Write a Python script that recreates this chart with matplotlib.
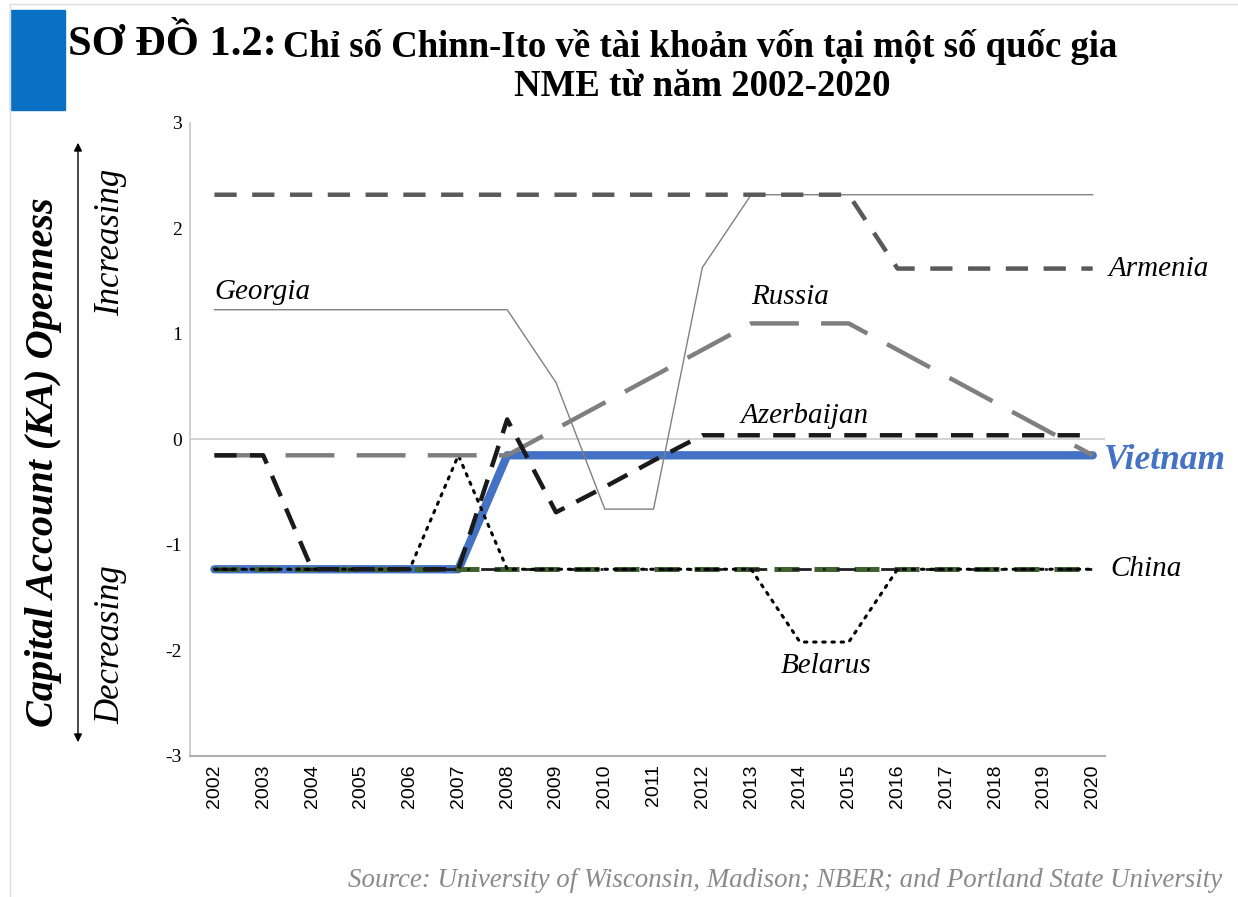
import matplotlib
matplotlib.use("Agg")
import matplotlib.pyplot as plt
from matplotlib.patches import Rectangle
from matplotlib.lines import Line2D

plt.rcParams['font.family'] = ['Liberation Serif', 'DejaVu Serif']

years = [2002, 2003, 2004, 2005, 2006, 2007, 2008, 2009, 2010, 2011,
         2012, 2013, 2014, 2015, 2016, 2017, 2018, 2019, 2020]

armenia = [2.32, 2.32, 2.32, 2.32, 2.32, 2.32, 2.32, 2.32, 2.32, 2.32,
           2.32, 2.32, 2.32, 2.32, 1.62, 1.62, 1.62, 1.62, 1.62]
georgia = [1.23, 1.23, 1.23, 1.23, 1.23, 1.23, 1.23, 0.54, -0.66, -0.66,
           1.63, 2.32, 2.32, 2.32, 2.32, 2.32, 2.32, 2.32, 2.32]
russia = [-0.15, -0.15, -0.15, -0.15, -0.15, -0.15, -0.15, 0.10, 0.35, 0.60,
          0.85, 1.10, 1.10, 1.10, 0.85, 0.60, 0.35, 0.10, -0.15]
azerbaijan = [-0.15, -0.15, -1.23, -1.23, -1.23, -1.23, 0.19, -0.69, -0.45, -0.20,
              0.04, 0.04, 0.04, 0.04, 0.04, 0.04, 0.04, 0.04, 0.04]
belarus = [-1.23, -1.23, -1.23, -1.23, -1.23, -0.15, -1.23, -1.23, -1.23, -1.23,
           -1.23, -1.23, -1.92, -1.92, -1.23, -1.23, -1.23, -1.23, -1.23]
china = [-1.23, -1.23, -1.23, -1.23, -1.23, -1.23, -1.23, -1.23, -1.23, -1.23,
         -1.23, -1.23, -1.23, -1.23, -1.23, -1.23, -1.23, -1.23, -1.23]
vietnam = [-1.23, -1.23, -1.23, -1.23, -1.23, -1.23, -0.15, -0.15, -0.15, -0.15,
           -0.15, -0.15, -0.15, -0.15, -0.15, -0.15, -0.15, -0.15, -0.15]

fig = plt.figure(figsize=(12.38, 8.97), dpi=100)
ax = fig.add_axes([0.1535, 0.1572, 0.739, 0.7057])

# zero line
ax.axhline(0, color='#d0d0d0', lw=1.3, zorder=1)

ax.plot(years, vietnam, color='#4472C4', lw=6, solid_capstyle='round', zorder=2)
ax.plot(years, china, color='#3f6330', lw=3.6, ls=(0, (5, 3)), zorder=3)
ax.plot(years, china, color='#1e1e1e', lw=2.0, ls=(0, (7, 4, 1, 4)), zorder=3)
ax.plot(years, belarus, color='black', lw=2.2, ls=(0, (0.8, 2.2)), dash_capstyle='round', zorder=4)
ax.plot(years, georgia, color='#808080', lw=1.0, zorder=4)
ax.plot(years, russia, color='#7f7f7f', lw=3.2, ls=(0, (11, 5)), zorder=4)
ax.plot(years, armenia, color='#595959', lw=3.2, ls=(0, (5, 3.5)), zorder=4)
ax.plot(years, azerbaijan, color='#1a1a1a', lw=3.2, ls=(0, (5, 3)), zorder=5)

ax.set_xlim(2001.5, 2020.25)
ax.set_ylim(-3, 3)
ax.set_yticks([-3, -2, -1, 0, 1, 2, 3])
ax.set_yticklabels(['-3', '-2', '-1', '0', '1', '2', '3'], fontsize=14)
ax.set_xticks(years)
ax.set_xticklabels([str(y) for y in years], rotation=90, fontsize=14,
                   family=['Liberation Sans', 'DejaVu Sans'])
ax.tick_params(axis='both', length=0, pad=6)
for s in ['top', 'right']:
    ax.spines[s].set_visible(False)
ax.spines['left'].set_color('#c8c8c8')
ax.spines['bottom'].set_color('#b0b0b0')
ax.spines['left'].set_linewidth(1.2)
ax.spines['bottom'].set_linewidth(1.5)

# series labels
lab = dict(fontsize=21, style='italic', color='black')
ax.text(2002, 1.40, 'Georgia', ha='left', va='center', **lab)
ax.text(2013.0, 1.35, 'Russia', ha='left', va='center', **lab)
ax.text(2012.78, 0.22, 'Azerbaijan', ha='left', va='center', **lab)
ax.text(2020.33, 1.62, 'Armenia', ha='left', va='center', clip_on=False, **lab)
ax.text(2020.37, -1.23, 'China', ha='left', va='center', clip_on=False, **lab)
ax.text(2013.6, -2.15, 'Belarus', ha='left', va='center', **lab)
ax.text(2020.22, -0.2, 'Vietnam', ha='left', va='center', fontsize=25.5, style='italic',
        weight='bold', color='#4472C4', clip_on=False)

# title block
fig.patches.append(Rectangle((10 / 1238, 1 - 110 / 897), 55 / 1238, 100 / 897,
                             transform=fig.transFigure, color='#0A70C4', zorder=0))
fig.lines.append(Line2D([10 / 1238, 1], [1 - 4 / 897, 1 - 4 / 897], transform=fig.transFigure,
                        color='#e0e0e0', lw=1))
fig.lines.append(Line2D([10 / 1238, 10 / 1238], [0, 1 - 4 / 897], transform=fig.transFigure,
                        color='#e0e0e0', lw=1))
fig.text(68 / 1238, 1 - 45 / 897, 'SƠ ĐỒ 1.2:', fontsize=30.5, weight='bold',
         ha='left', va='center')
fig.text(283 / 1238, 1 - 47 / 897, 'Chỉ số Chinn-Ito về tài khoản vốn tại một số quốc gia',
         fontsize=26.5, weight='bold', ha='left', va='center')
fig.text(702 / 1238, 1 - 86 / 897, 'NME từ năm 2002-2020', fontsize=26.5, weight='bold',
         ha='center', va='center')

# y axis description
fig.text(44 / 1238, 1 - 462 / 897, 'Capital Account (KA) Openness', fontsize=29,
         weight='bold', style='italic', rotation=90, ha='center', va='center')
fig.text(111 / 1238, 1 - 242 / 897, 'Increasing', fontsize=25, style='italic',
         rotation=90, ha='center', va='center')
fig.text(111 / 1238, 1 - 645 / 897, 'Decreasing', fontsize=25, style='italic',
         rotation=90, ha='center', va='center')
fig.patches.append(matplotlib.patches.FancyArrowPatch(
    (78 / 1238, 1 - 745 / 897), (78 / 1238, 1 - 140 / 897), transform=fig.transFigure,
    arrowstyle='<|-|>', mutation_scale=12, color='black', lw=1.0))

fig.text(1222 / 1238, 1 - 880 / 897,
         'Source: University of Wisconsin, Madison; NBER; and Portland State University',
         fontsize=19.4, style='italic', color='#8a8a8a', ha='right', va='center')

fig.savefig('out.png', dpi=100)
